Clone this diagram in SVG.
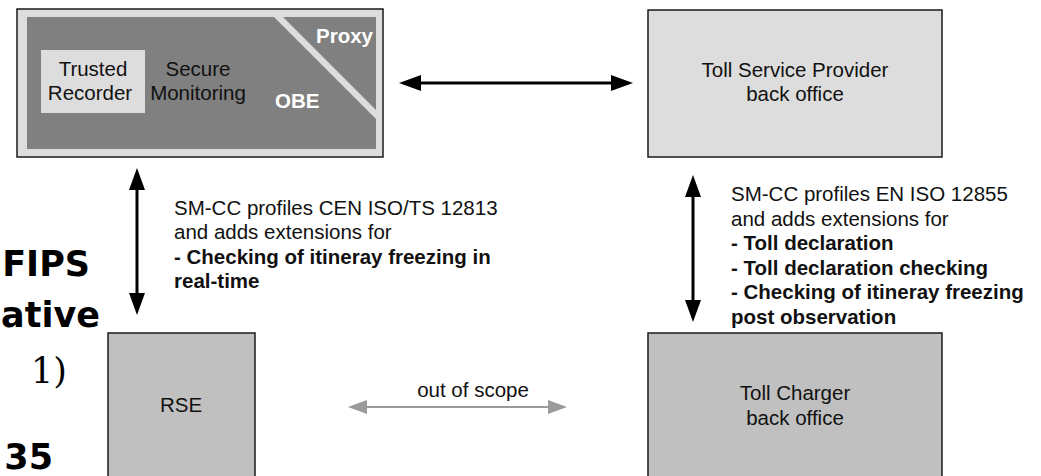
<svg xmlns="http://www.w3.org/2000/svg" width="1041" height="476" viewBox="0 0 1041 476">
<style>
.t{font-family:"Liberation Sans",Arial,sans-serif;font-size:20.5px;fill:#111}
.b{font-weight:bold}
.w{fill:#fff;font-weight:bold}
.c{text-anchor:middle}
.big{font-family:"DejaVu Sans",sans-serif;font-weight:bold;font-size:35px;fill:#000;text-anchor:end}
.bigs{font-family:"DejaVu Serif",serif;font-size:35px;fill:#000;text-anchor:end}
.box{stroke:#1a1a1a;stroke-width:1.5}
.blk{stroke:#000;stroke-width:3;fill:none}
.gry{stroke:#9a9a9a;stroke-width:2;fill:none}
</style>
<defs>
<marker id="ah" markerUnits="userSpaceOnUse" markerWidth="22" markerHeight="16" refX="0" refY="8" orient="auto-start-reverse"><path d="M0,0 L22,8 L0,16 z" fill="#000"/></marker>
<marker id="ag" markerUnits="userSpaceOnUse" markerWidth="19" markerHeight="14" refX="0" refY="7" orient="auto-start-reverse"><path d="M0,0 L19,7 L0,14 z" fill="#9a9a9a"/></marker>
</defs>
<rect width="1041" height="476" fill="#fff"/>

<g id="background-text">
<text class="big" x="90" y="276">FIPS</text>
<text class="big" x="100" y="327">ative</text>
<text class="bigs" x="67" y="383">1)</text>
<text class="big" x="53" y="469">35</text>
</g>

<g id="obe">
<rect class="box" x="17" y="9" width="366" height="148" fill="#dddddd"/>
<rect x="27" y="17" width="349" height="132" fill="#808080"/>
<polygon points="274,17 283,17 376,110 376,119" fill="#dddddd"/>
<text class="t w" x="316" y="43">Proxy</text>
<rect x="41" y="50" width="104" height="63" fill="#dddddd"/>
<text class="t c" x="93" y="76">Trusted</text>
<text class="t c" x="90" y="100">Recorder</text>
<text class="t c" x="198" y="76">Secure</text>
<text class="t c" x="198" y="100">Monitoring</text>
<text class="t w" x="275" y="108">OBE</text>
</g>

<g id="tsp">
<rect class="box" x="648" y="10" width="294" height="147" fill="#dddddd"/>
<text class="t c" x="795" y="77">Toll Service Provider</text>
<text class="t c" x="795" y="101">back office</text>
</g>

<g id="rse">
<rect class="box" x="108" y="333" width="147" height="150" fill="#c0c0c0"/>
<text class="t c" x="181" y="412">RSE</text>
</g>

<g id="tc">
<rect class="box" x="648" y="333" width="294" height="150" fill="#c0c0c0"/>
<text class="t c" x="795" y="400">Toll Charger</text>
<text class="t c" x="795" y="425">back office</text>
</g>

<g id="connectors">
<line class="blk" x1="421" y1="83" x2="611" y2="83" marker-start="url(#ah)" marker-end="url(#ah)"/>
<line class="blk" x1="137" y1="190" x2="137" y2="293" marker-start="url(#ah)" marker-end="url(#ah)"/>
<line class="blk" x1="693" y1="197" x2="693" y2="300" marker-start="url(#ah)" marker-end="url(#ah)"/>
<line class="gry" x1="367" y1="407" x2="548" y2="407" marker-start="url(#ag)" marker-end="url(#ag)"/>
</g>

<g id="labels">
<text class="t" x="174" y="215">SM-CC profiles CEN ISO/TS 12813</text>
<text class="t" x="174" y="239">and adds extensions for</text>
<text class="t b" x="174" y="263.5">- Checking of itineray freezing in</text>
<text class="t b" x="174" y="288">real-time</text>
<text class="t" x="731" y="201">SM-CC profiles EN ISO 12855</text>
<text class="t" x="731" y="225.5">and adds extensions for</text>
<text class="t b" x="731" y="250">- Toll declaration</text>
<text class="t b" x="731" y="274.5">- Toll declaration checking</text>
<text class="t b" x="731" y="299">- Checking of itineray freezing</text>
<text class="t b" x="731" y="323.5">post observation</text>
<text class="t c" x="473" y="397">out of scope</text>
</g>
</svg>
